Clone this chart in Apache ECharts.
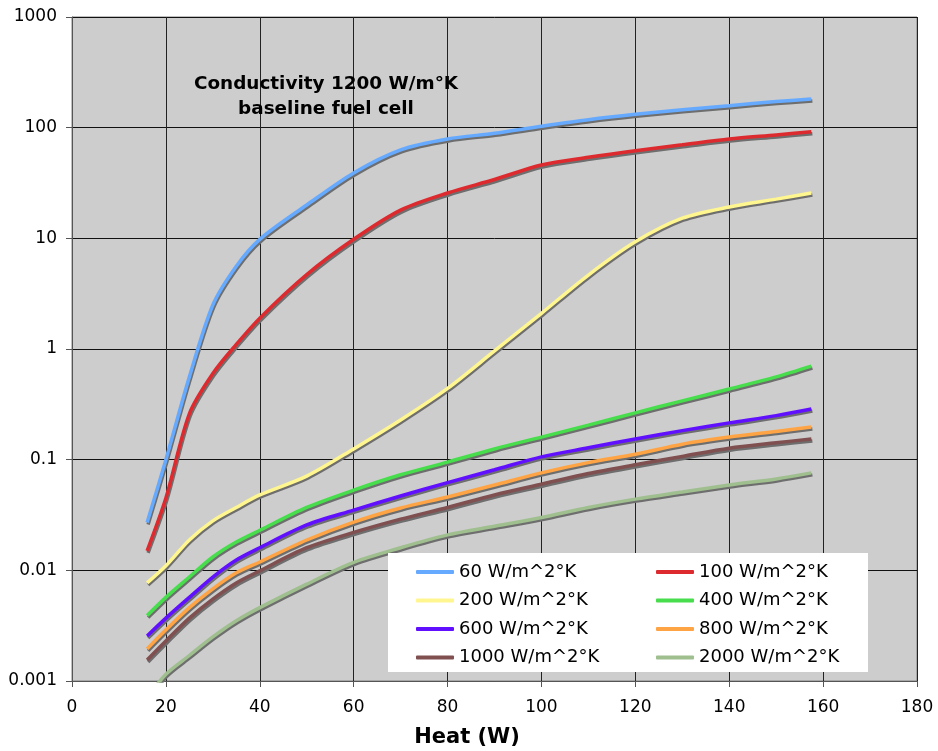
<!DOCTYPE html>
<html>
<head>
<meta charset="utf-8">
<script src="https://cdn.jsdelivr.net/npm/echarts@6/dist/echarts.min.js"></script>
<style>html,body{margin:0;padding:0;background:#fff}#c{width:938px;height:751px}</style>
</head>
<body>
<div id="c"></div>
<script>
var heat = [16, 20, 25, 30, 35, 40, 50, 60, 70, 80, 90, 100, 110, 120, 130, 140, 150, 157.5];
var s60   = [0.027, 0.1, 0.56, 2.5, 5.6, 9.8, 20, 39, 63, 79, 89, 103, 118, 132, 145, 158, 172, 182];
var s100  = [0.015, 0.045, 0.26, 0.6, 1.1, 1.9, 4.7, 9.8, 18, 25.7, 34, 46, 54, 62, 70, 79, 86, 92];
var s200  = [0.0077, 0.011, 0.0188, 0.028, 0.037, 0.048, 0.071, 0.125, 0.228, 0.44, 0.96, 2.1, 4.66, 9.3, 15.2, 19.2, 22.6, 25.7];
var s400  = [0.0039, 0.0057, 0.0087, 0.0132, 0.018, 0.023, 0.037, 0.053, 0.073, 0.095, 0.125, 0.16, 0.205, 0.265, 0.34, 0.435, 0.56, 0.70];
var s600  = [0.00255, 0.0037, 0.0057, 0.0087, 0.0124, 0.016, 0.0257, 0.035, 0.047, 0.062, 0.081, 0.106, 0.128, 0.154, 0.183, 0.215, 0.25, 0.287];
var s800  = [0.00195, 0.0029, 0.0046, 0.0068, 0.0095, 0.0119, 0.0188, 0.0273, 0.0366, 0.046, 0.059, 0.076, 0.094, 0.112, 0.138, 0.16, 0.18, 0.197];
var s1000 = [0.00155, 0.0023, 0.0037, 0.0055, 0.0077, 0.0099, 0.016, 0.022, 0.029, 0.037, 0.048, 0.060, 0.075, 0.09, 0.107, 0.127, 0.142, 0.154];
var s2000 = [0.0007, 0.00115, 0.0017, 0.0025, 0.0035, 0.0046, 0.0075, 0.0118, 0.016, 0.0209, 0.025, 0.030, 0.037, 0.044, 0.051, 0.059, 0.067, 0.076];

var seriesNames = ['60 W/m^2°K', '100 W/m^2°K', '200 W/m^2°K', '400 W/m^2°K', '600 W/m^2°K', '800 W/m^2°K', '1000 W/m^2°K', '2000 W/m^2°K'];
var seriesData = [s60, s100, s200, s400, s600, s800, s1000, s2000];
var seriesColors = ['#66aaff', '#dd2a2f', '#fff68f', '#48dd4c', '#6010ff', '#ffa444', '#804f50', '#9fbf8f'];

var xTickLabels = ['0', '20', '40', '60', '80', '100', '120', '140', '160', '180'];
var yTickLabels = ['0.001', '0.01', '0.1', '1', '10', '100', '1000'];
var chartTitle = 'Conductivity 1200 W/m°K\nbaseline fuel cell';
var xAxisTitle = 'Heat (W)';

var FONT = 'DejaVu Sans';

var series = seriesNames.map(function (name, i) {
  return {
    name: name,
    type: 'line',
    smooth: 0.3,
    showSymbol: false,
    symbol: 'none',
    clip: true,
    color: seriesColors[i],
    lineStyle: {
      width: 3.5,
      color: seriesColors[i],
      shadowColor: 'rgba(110,110,110,1)',
      shadowBlur: 0,
      shadowOffsetX: 1,
      shadowOffsetY: 2
    },
    data: heat.map(function (x, j) { return [x, seriesData[i][j]]; })
  };
});

var legendCommon = {
  orient: 'vertical',
  icon: 'roundRect',
  itemWidth: 38,
  itemHeight: 4,
  itemGap: 8.5,
  padding: 0,
  z: 60,
  textStyle: { fontFamily: FONT, fontSize: 18, color: '#000', lineHeight: 20 }
};

var chart = echarts.init(document.getElementById('c'), null, { renderer: 'canvas' });
chart.setOption({
  animation: false,
  backgroundColor: '#fff',
  title: [{
    text: chartTitle,
    left: 321,
    top: 67,
    textAlign: 'center',
    textStyle: { fontFamily: FONT, fontSize: 18.4, fontWeight: 'bold', color: '#000', lineHeight: 25 }
  }, {
    text: xAxisTitle,
    left: 467,
    top: 727,
    textAlign: 'center',
    padding: 0,
    textStyle: { fontFamily: FONT, fontSize: 21, fontWeight: 'bold', color: '#000' }
  }],
  grid: {
    left: 72, top: 17, right: 21, bottom: 70,
    show: true,
    backgroundColor: '#cdcdcd',
    borderColor: '#808080',
    borderWidth: 1
  },
  graphic: [{
    type: 'rect',
    z: 50,
    shape: { x: 388, y: 553, width: 480, height: 119 },
    style: { fill: '#ffffff' }
  }],
  legend: [
    Object.assign({}, legendCommon, { left: 416, top: 562, data: [seriesNames[0], seriesNames[2], seriesNames[4], seriesNames[6]] }),
    Object.assign({}, legendCommon, { left: 656, top: 562, data: [seriesNames[1], seriesNames[3], seriesNames[5], seriesNames[7]] })
  ],
  xAxis: {
    type: 'value',
    min: 0, max: 180, interval: 20,
    axisLine: { show: true, lineStyle: { color: '#555', width: 1 } },
    axisTick: { show: true, length: 6, lineStyle: { color: '#555' } },
    axisLabel: {
      fontFamily: FONT, fontSize: 17, color: '#000', margin: 18,
      formatter: function (v) { var k = Math.round(v / 20); return xTickLabels[k] !== undefined ? xTickLabels[k] : ''; }
    },
    splitLine: { show: true, lineStyle: { color: '#222', width: 1 } }
  },
  yAxis: {
    type: 'log',
    logBase: 10,
    min: 0.001, max: 1000,
    axisLine: { show: true, lineStyle: { color: '#555', width: 1 } },
    axisTick: { show: true, length: 6, lineStyle: { color: '#555' } },
    minorTick: { show: false },
    axisLabel: {
      fontFamily: FONT, fontSize: 17, color: '#000', margin: 15,
      formatter: function (v) { var k = Math.round(Math.log10(v)) + 3; return yTickLabels[k] !== undefined ? yTickLabels[k] : ''; }
    },
    splitLine: { show: true, lineStyle: { color: '#111', width: 1 } }
  },
  series: series
});
</script>
</body>
</html>
